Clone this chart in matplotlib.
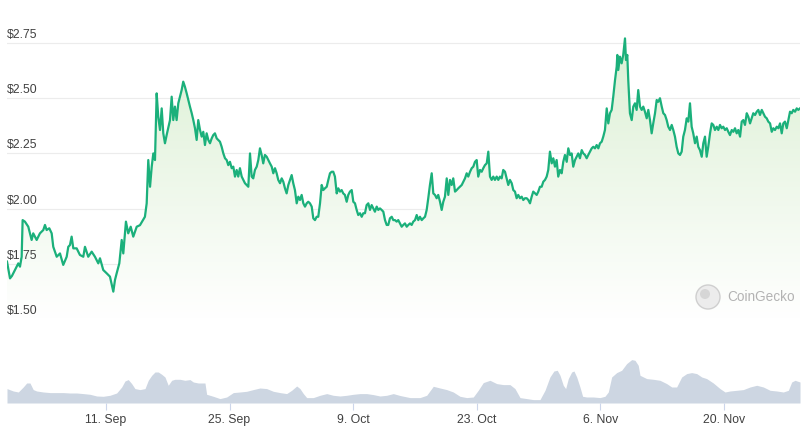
import matplotlib
matplotlib.use("Agg")
import matplotlib.pyplot as plt
import numpy as np
from matplotlib.patches import Circle
from matplotlib.transforms import IdentityTransform

plt.rcParams['font.family'] = ['Liberation Sans', 'DejaVu Sans']

# price series: days since 31 Aug, price in USD
price_day = [
    -0.20, 0.14, 0.36, 0.70, 1.08, 1.27, 1.46, 1.57, 1.83, 2.21, 2.59, 2.77, 3.16, 3.53, 3.91, 4.10,
    4.29, 4.59, 4.86, 5.04, 5.43, 5.80, 6.17, 6.56, 6.74, 6.93, 7.12, 7.31, 7.69, 8.06, 8.44, 8.63,
    9.00, 9.39, 9.76, 10.14, 10.33, 10.70, 11.09, 11.46, 11.84, 12.03, 12.22, 12.52, 12.79, 12.97,
    13.27, 13.53, 13.81, 14.10, 14.49, 14.86, 15.42, 15.62, 15.80, 16.00, 16.19, 16.37, 16.56, 16.75,
    16.93, 17.13, 17.32, 17.50, 17.69, 17.88, 18.26, 18.45, 18.63, 18.82, 19.01, 19.20, 19.39, 19.58,
    19.76, 19.95, 20.15, 20.33, 20.52, 20.72, 20.90, 21.09, 21.28, 21.46, 21.66, 21.85, 22.03, 22.22,
    22.41, 22.60, 22.79, 22.98, 23.16, 23.35, 23.55, 23.92, 24.11, 24.30, 24.49, 24.68, 24.86, 25.05,
    25.25, 25.43, 25.62, 25.81, 25.99, 26.18, 26.38, 26.56, 26.75, 26.94, 27.13, 27.32, 27.51, 27.69,
    27.88, 28.08, 28.26, 28.45, 28.64, 28.82, 29.01, 29.21, 29.39, 29.58, 29.78, 29.96, 30.15, 30.34,
    30.52, 30.72, 30.91, 31.09, 31.28, 31.47, 31.66, 31.85, 32.04, 32.22, 32.41, 32.61, 32.79, 32.98,
    33.17, 33.36, 33.55, 33.74, 33.92, 34.11, 34.31, 34.49, 34.68, 34.87, 35.05, 35.25, 35.44, 35.62,
    35.81, 36.01, 36.19, 36.38, 36.57, 36.75, 36.94, 37.14, 37.32, 37.51, 37.70, 37.88, 38.07, 38.27,
    38.45, 38.64, 38.84, 39.02, 39.21, 39.40, 39.58, 39.78, 39.97, 40.15, 40.34, 40.53, 40.72, 40.91,
    41.10, 41.28, 41.47, 41.67, 41.85, 42.04, 42.23, 42.42, 42.61, 42.80, 42.98, 43.17, 43.37, 43.55,
    43.74, 43.93, 44.11, 44.31, 44.50, 44.68, 44.87, 45.07, 45.25, 45.44, 45.63, 45.81, 46.01, 46.20,
    46.38, 46.57, 46.77, 46.95, 47.14, 47.33, 47.51, 47.70, 47.90, 48.08, 48.27, 48.46, 48.64, 48.84,
    49.03, 49.21, 49.40, 49.60, 49.78, 49.97, 50.16, 50.34, 50.54, 50.73, 50.91, 51.10, 51.30, 51.48,
    51.67, 51.86, 52.04, 52.24, 52.43, 52.61, 52.80, 52.99, 53.17, 53.37, 53.56, 53.74, 53.93, 54.13,
    54.31, 54.50, 54.69, 54.87, 55.06, 55.26, 55.44, 55.63, 55.82, 56.00, 56.20, 56.39, 56.57, 56.76,
    56.96, 57.14, 57.33, 57.52, 57.70, 57.90, 58.09, 58.27, 58.46, 58.66, 58.84, 59.03, 59.22, 59.40,
    59.60, 59.79, 59.97, 60.16, 60.35, 60.54, 60.73, 60.92, 61.10, 61.29, 61.49, 61.67, 61.86, 62.05,
    62.23, 62.43, 62.62, 62.80, 62.99, 63.19, 63.37, 63.56, 63.75, 63.93, 64.13, 64.32, 64.50, 64.69,
    64.89, 65.07, 65.26, 65.45, 65.63, 65.83, 66.02, 66.20, 66.39, 66.58, 66.77, 66.96, 67.15, 67.33,
    67.52, 67.72, 67.90, 68.09, 68.28, 68.46, 68.66, 68.85, 68.92, 69.03, 69.22, 69.41, 69.59, 69.79,
    69.90, 70.05, 70.16, 70.35, 70.55, 70.73, 70.92, 71.11, 71.29, 71.49, 71.68, 71.86, 72.05, 72.25,
    72.43, 72.62, 72.81, 72.99, 73.19, 73.38, 73.56, 73.75, 73.95, 74.13, 74.32, 74.51, 74.69, 74.89,
    75.08, 75.26, 75.45, 75.64, 75.83, 76.02, 76.21, 76.39, 76.58, 76.78, 76.96, 77.15, 77.34, 77.52,
    77.72, 77.91, 78.09, 78.28, 78.48, 78.66, 78.85, 79.04, 79.22, 79.42, 79.61, 79.79, 79.98, 80.18,
    80.36, 80.55, 80.74, 80.92, 81.12, 81.31, 81.49, 81.68, 81.88, 82.06, 82.25, 82.44, 82.62, 82.82,
    83.01, 83.19, 83.38, 83.58, 83.76, 83.95, 84.14, 84.32, 84.52, 84.71, 84.89, 85.08, 85.28, 85.46,
    85.65, 85.84, 86.02, 86.22, 86.41, 86.59, 86.78, 86.98, 87.16, 87.35, 87.54, 87.72, 87.91, 88.11,
    88.29, 88.48, 88.67, 88.85, 89.05, 89.24, 89.42, 89.61,
]
price_usd = [
    1.760, 1.684, 1.695, 1.722, 1.752, 1.737, 1.782, 1.948, 1.941, 1.918, 1.858, 1.888, 1.858, 1.888, 1.903, 1.926,
    1.903, 1.911, 1.888, 1.827, 1.782, 1.797, 1.745, 1.782, 1.827, 1.835, 1.873, 1.820, 1.820, 1.790, 1.782, 1.827,
    1.782, 1.805, 1.782, 1.752, 1.775, 1.722, 1.707, 1.692, 1.624, 1.677, 1.707, 1.752, 1.858, 1.797,
    1.941, 1.888, 1.918, 1.873, 1.918, 1.925, 1.963, 2.024, 2.220, 2.099, 2.190, 2.250, 2.220, 2.522,
    2.416, 2.356, 2.454, 2.341, 2.296, 2.333, 2.401, 2.507, 2.401, 2.462, 2.401, 2.477, 2.507, 2.537,
    2.575, 2.552, 2.522, 2.492, 2.462, 2.432, 2.401, 2.364, 2.311, 2.401, 2.356, 2.326, 2.348, 2.288,
    2.341, 2.311, 2.296, 2.318, 2.333, 2.341, 2.318, 2.303, 2.280, 2.250, 2.228, 2.220, 2.197, 2.212,
    2.183, 2.190, 2.145, 2.175, 2.145, 2.183, 2.145, 2.130, 2.115, 2.107, 2.099, 2.250, 2.145, 2.137,
    2.175, 2.190, 2.220, 2.273, 2.243, 2.205, 2.243, 2.235, 2.220, 2.205, 2.190, 2.160, 2.183, 2.160,
    2.130, 2.115, 2.137, 2.122, 2.092, 2.069, 2.107, 2.130, 2.152, 2.115, 2.084, 2.024, 2.054, 2.039,
    2.062, 2.024, 2.009, 2.024, 2.031, 2.024, 2.009, 1.956, 1.948, 1.963, 1.963, 2.024, 2.107, 2.084,
    2.092, 2.099, 2.130, 2.160, 2.167, 2.167, 2.145, 2.069, 2.092, 2.077, 2.084, 2.069, 2.062, 2.031,
    2.062, 2.077, 2.084, 2.031, 2.024, 1.994, 1.971, 1.979, 1.963, 1.979, 1.979, 2.016, 2.024, 1.994,
    2.016, 2.001, 1.986, 2.009, 1.994, 2.001, 1.994, 1.986, 1.948, 1.926, 1.926, 1.956, 1.963, 1.948,
    1.948, 1.941, 1.948, 1.933, 1.918, 1.926, 1.933, 1.918, 1.926, 1.933, 1.926, 1.941, 1.948, 1.971,
    1.948, 1.963, 1.948, 1.956, 1.963, 1.994, 2.047, 2.107, 2.160, 2.069, 2.062, 2.047, 2.062, 2.031,
    1.994, 2.031, 2.054, 2.137, 2.062, 2.130, 2.107, 2.137, 2.077, 2.084, 2.092, 2.099, 2.107, 2.122,
    2.137, 2.160, 2.145, 2.167, 2.183, 2.190, 2.212, 2.220, 2.145, 2.175, 2.167, 2.183, 2.197, 2.205,
    2.258, 2.145, 2.130, 2.145, 2.130, 2.145, 2.130, 2.145, 2.137, 2.175, 2.167, 2.137, 2.107, 2.130,
    2.115, 2.084, 2.077, 2.047, 2.062, 2.047, 2.054, 2.039, 2.047, 2.047, 2.039, 2.024, 2.054, 2.077,
    2.069, 2.062, 2.077, 2.099, 2.099, 2.122, 2.130, 2.145, 2.175, 2.258, 2.205, 2.228, 2.190, 2.220,
    2.145, 2.175, 2.160, 2.212, 2.243, 2.212, 2.273, 2.243, 2.250, 2.190, 2.220, 2.235, 2.250, 2.228,
    2.265, 2.250, 2.243, 2.228, 2.243, 2.258, 2.273, 2.280, 2.273, 2.288, 2.273, 2.296, 2.303, 2.326,
    2.356, 2.454, 2.386, 2.432, 2.447, 2.507, 2.582, 2.643, 2.696, 2.628, 2.688, 2.658, 2.696, 2.771,
    2.673, 2.696, 2.582, 2.432, 2.401, 2.462, 2.477, 2.447, 2.537, 2.462, 2.447, 2.462, 2.439, 2.409,
    2.447, 2.401, 2.341, 2.386, 2.432, 2.492, 2.484, 2.500, 2.462, 2.432, 2.424, 2.401, 2.371, 2.356,
    2.379, 2.356, 2.326, 2.280, 2.250, 2.243, 2.258, 2.326, 2.356, 2.409, 2.394, 2.477, 2.371, 2.341,
    2.296, 2.326, 2.280, 2.265, 2.235, 2.296, 2.326, 2.235, 2.280, 2.341, 2.386, 2.379, 2.356, 2.371,
    2.356, 2.379, 2.364, 2.371, 2.356, 2.364, 2.348, 2.333, 2.356, 2.348, 2.364, 2.341, 2.356, 2.326,
    2.394, 2.401, 2.379, 2.432, 2.416, 2.386, 2.409, 2.432, 2.424, 2.439, 2.447, 2.424, 2.447, 2.432,
    2.416, 2.409, 2.394, 2.386, 2.348, 2.364, 2.356, 2.371, 2.364, 2.386, 2.341, 2.386, 2.394, 2.364,
    2.401, 2.439, 2.432, 2.447, 2.439, 2.454, 2.447, 2.454,
]

# trading volume (relative)
volume_day = [
    -0.20, 0.51, 1.08, 1.64, 2.03, 2.40, 2.77, 3.16, 3.91, 4.67, 5.43, 6.17, 6.93, 7.69, 8.44, 9.20,
    9.96, 10.70, 11.46, 12.22, 12.79, 13.16, 13.53, 13.92, 14.29, 14.86, 15.43, 15.80, 16.19, 16.56,
    16.93, 17.32, 17.69, 18.06, 18.45, 18.82, 19.39, 19.95, 20.52, 20.90, 21.46, 22.22, 22.41, 23.16,
    23.92, 24.68, 25.43, 26.18, 26.94, 27.69, 28.45, 29.21, 29.96, 30.72, 31.47, 32.04, 32.61, 32.98,
    33.36, 33.74, 34.49, 35.25, 36.01, 36.75, 37.51, 38.27, 39.02, 39.78, 40.53, 41.28, 42.04, 42.80,
    43.55, 44.31, 45.44, 46.57, 47.33, 48.08, 48.84, 49.60, 50.34, 51.10, 51.86, 52.61, 53.17, 53.74,
    54.50, 55.26, 56.00, 56.76, 57.33, 57.90, 58.66, 59.40, 60.16, 60.73, 61.29, 61.74, 62.12, 62.43,
    62.80, 63.07, 63.37, 63.75, 64.01, 64.32, 64.69, 64.99, 65.45, 66.20, 66.96, 67.52, 67.90, 68.28,
    68.85, 69.41, 69.98, 70.55, 70.92, 71.29, 71.49, 72.25, 73.00, 73.75, 74.51, 75.08, 75.64, 76.21,
    76.78, 77.34, 77.91, 78.48, 79.04, 79.79, 80.55, 81.12, 81.68, 82.44, 83.19, 83.95, 84.71, 85.46,
    86.22, 86.98, 87.72, 88.29, 88.67, 89.05, 89.61,
]
volume_m = [
    14.4, 12.0, 11.0, 16.0, 20.0, 20.0, 13.4, 12.0, 11.0, 10.4, 10.4, 10.4, 10.0, 10.0, 9.4, 8.7,
    7.0, 6.7, 7.7, 10.0, 16.0, 22.0, 23.4, 19.4, 14.4, 13.4, 14.4, 22.7, 27.7, 31.0,
    31.0, 28.7, 26.0, 17.7, 22.7, 23.7, 23.7, 22.7, 23.4, 21.0, 20.0, 20.0, 8.7, 6.7,
    4.4, 6.0, 10.4, 11.0, 11.7, 13.4, 15.0, 14.4, 11.7, 10.4, 9.4, 12.7, 17.0, 14.4,
    9.4, 5.4, 5.4, 7.7, 9.4, 7.7, 7.0, 7.7, 8.7, 9.4, 9.4, 8.4, 7.0, 7.7,
    9.4, 7.5, 5.4, 5.4, 7.7, 16.7, 15.0, 13.4, 11.0, 6.7, 5.4, 6.0, 12.7, 20.4,
    22.7, 19.4, 18.4, 18.4, 14.4, 5.4, 4.4, 3.4, 3.4, 12.7, 26.0, 32.0, 32.7, 27.7,
    17.7, 14.4, 24.4, 31.0, 32.0, 26.0, 16.0, 6.7, 6.0, 6.0, 5.4, 6.7, 11.0, 26.0,
    30.4, 32.7, 39.4, 43.4, 42.7, 37.7, 27.7, 24.4, 23.7, 22.7, 19.4, 16.0, 16.0, 26.0,
    29.4, 30.4, 29.4, 26.0, 24.4, 20.0, 14.4, 11.0, 12.0, 12.7, 13.4, 16.0, 17.7, 16.0,
    12.7, 12.0, 11.0, 12.7, 21.0, 22.7, 21.0,
]

price_ticks = [1.50, 1.75, 2.00, 2.25, 2.50, 2.75]
date_ticks = [11, 25, 39, 53, 67, 81]
date_labels = ["11. Sep", "25. Sep", "9. Oct", "23. Oct", "6. Nov", "20. Nov"]

line_color = "#1bb07b"
W, H = 802, 432
x_lo, x_hi = -0.20, 89.61

fig = plt.figure(figsize=(W / 100, H / 100), dpi=100)
fig.patch.set_facecolor("white")

# price panel
ax = fig.add_axes([7 / W, (H - 319) / H, 793 / W, 289 / H])
ax.set_xlim(x_lo, x_hi)
ax.set_ylim(1.50, 2.809)
for s in ax.spines.values():
    s.set_visible(False)
ax.set_xticks([])
ax.set_yticks([])
for v in price_ticks:
    ax.axhline(v, color="#ececec", lw=0.8, zorder=0)
    ax.annotate(f"${v:.2f}", xy=(0, v), xycoords=("axes fraction", "data"),
                xytext=(0, 1.5), textcoords="offset points", ha="left", va="bottom",
                fontsize=8.8, color="#404040", annotation_clip=False)

# gradient fill under the price line
poly = ax.fill_between(price_day, price_usd, 1.50, color="none", lw=0)
grad = np.linspace(0, 1, 256).reshape(-1, 1)
cmap = matplotlib.colors.LinearSegmentedColormap.from_list("g", ["#ffffff", "#dcf0d4"])
img = ax.imshow(grad, cmap=cmap, aspect="auto", origin="lower",
                extent=[x_lo, x_hi, 1.50, 2.78], zorder=1, vmin=0, vmax=1)
img.set_clip_path(poly.get_paths()[0], transform=ax.transData)
ax.plot(price_day, price_usd, color=line_color, lw=1.6, zorder=3, solid_joinstyle="round")

# volume panel
vax = fig.add_axes([7 / W, (H - 403) / H, 793 / W, 63 / H])
vax.set_xlim(x_lo, x_hi)
vax.set_ylim(0, 63)
for s in vax.spines.values():
    s.set_visible(False)
vax.fill_between(volume_day, volume_m, 0, color="#cdd6e2", lw=0)
vax.set_yticks([])
vax.set_xticks(date_ticks)
vax.set_xticklabels(date_labels, fontsize=8.8, color="#404040")
vax.tick_params(axis="x", length=5, width=0.8, color="#ccd6eb", pad=3)

# CoinGecko watermark
fig.add_artist(Circle((708, H - 297), 12, transform=IdentityTransform(),
                      facecolor="#ececec", edgecolor="#cfcfcf", lw=1))
fig.add_artist(Circle((705, H - 294), 5, transform=IdentityTransform(),
                      facecolor="#d6d6d6", edgecolor="none"))
fig.text(727 / W, (H - 297) / H, "CoinGecko", fontsize=9.8, color="#b3b3b3",
         ha="left", va="center")

fig.savefig("out.png", dpi=100, facecolor="white")
